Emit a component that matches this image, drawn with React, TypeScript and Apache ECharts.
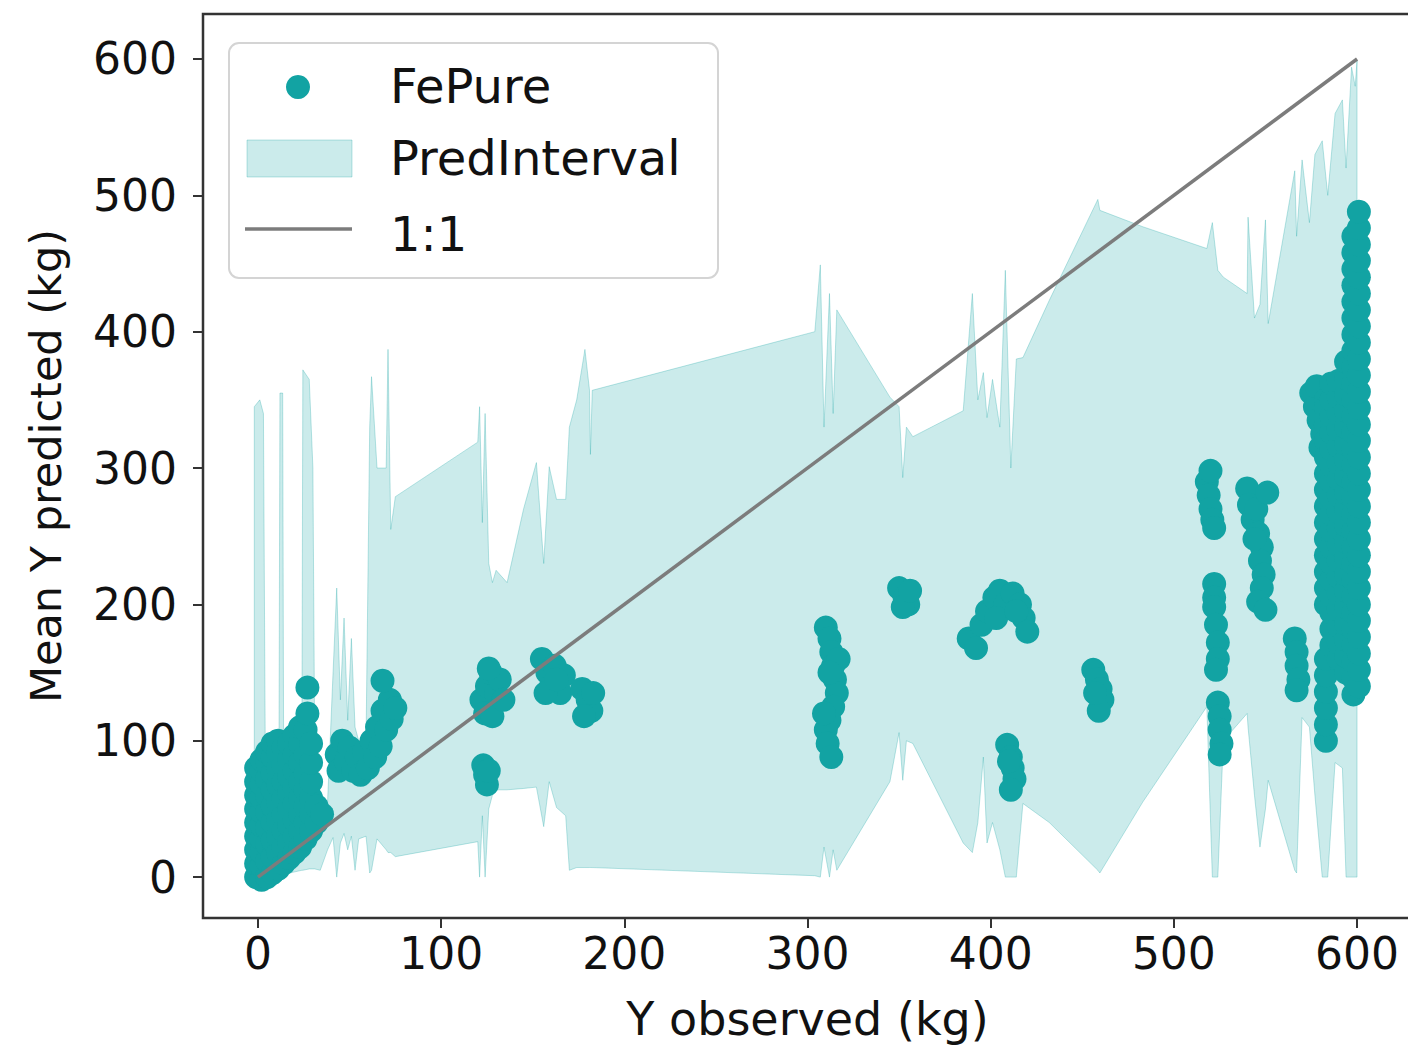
import React, { useEffect, useRef } from "react";
import * as echarts from "echarts";

// ---------- axis ticks ----------
const xTicks = [0, 100, 200, 300, 400, 500, 600];
const yTicks = [0, 100, 200, 300, 400, 500, 600];

// ---------- prediction interval (sorted by observed Y) ----------
const intervalX = [
  -2, 1, 3, 4, 8, 11.5, 12, 13.5, 14, 24, 24.5, 28, 30, 31, 34, 38, 41, 43, 45, 47,
  49, 51, 53, 55, 59, 61, 62, 65, 70, 71, 72.5, 75, 120, 121, 122.5, 124, 126, 128,
  130, 136, 145, 152, 156, 159, 163, 168, 170, 174, 178.5, 181, 181.5, 182.5, 304,
  307, 309, 312, 314, 316, 345, 350, 352, 354, 357.5, 385, 390, 393, 396, 398, 401,
  405, 408, 411, 414, 417.6, 432, 458.5, 459.6, 483, 518, 521, 524, 527, 540, 540.5,
  544, 547, 550, 551.5, 566, 567, 570, 574, 577, 581, 584, 588, 592, 594, 597, 599, 600,
];
const intervalLower = [
  -2, 0, 0, 0, 0, 1, 1, 2, 2, 5, 5, 6, 6, 6, 5, 20, 29, 0, 25, 32,
  20, 30, 5, 28, 30, 3, 5, 28, 20, 18, 18, 15, 26, 0, 45, 0, 50, 60,
  64, 64, 65, 66, 37, 70, 51, 45, 5, 7, 7, 7, 7, 7, 1,
  0, 22, 0, 20, 5, 70, 106, 71, 100, 98, 25, 18, 40, 88, 25, 40,
  20, 0, 0, 0, 54, 40, 5, 3, 55, 125, 0, 0, 100, 120, 110,
  60, 22, 50, 71, 5, 3, 117, 110, 60, 0, 0, 84, 80, 0, 0, 0, 0,
];
const intervalUpper = [
  345, 350, 340, 90, 95, 100, 355, 355, 100, 105, 372, 365, 300, 90, 60, 55, 150, 212, 130, 190,
  115, 175, 110, 100, 100, 330, 367, 300, 300, 387, 255, 279, 319, 345, 260, 340, 230, 216,
  225, 216, 270, 304, 230, 301, 277, 277, 330, 350, 387, 357, 310, 357, 400,
  449, 330, 428, 340, 416, 352, 345, 293, 330, 323, 342, 428, 350, 370, 337, 365,
  330, 445, 300, 380, 381, 423, 497, 489, 477, 461, 480, 445, 440, 428, 484,
  410, 420, 482, 406, 518, 470, 526, 480, 530, 540, 500, 560, 570, 520, 594, 580, 599,
];

// ---------- FePure points [Y observed, mean Y predicted] ----------
const fePure: number[][] = [
  // dense cluster near zero
  [-1, 0], [-1, 10], [-1, 20], [-1, 30], [-1, 40], [-1, 50], [-1, 60], [-1, 70], [-1, 80],
  [2, -2], [2, 8], [2, 18], [2, 28], [2, 38], [2, 48], [2, 58], [2, 68], [2, 78], [2, 86],
  [5, 0], [5, 12], [5, 24], [5, 36], [5, 48], [5, 60], [5, 72], [5, 84], [5, 92],
  [8, 3], [8, 15], [8, 27], [8, 40], [8, 52], [8, 64], [8, 76], [8, 88], [8, 98],
  [11, 6], [11, 18], [11, 30], [11, 42], [11, 55], [11, 68], [11, 80], [11, 92], [11, 100],
  [14, 10], [14, 22], [14, 34], [14, 46], [14, 58], [14, 70], [14, 82], [14, 95],
  [17, 14], [17, 26], [17, 38], [17, 50], [17, 62], [17, 74], [17, 86], [17, 98],
  [20, 18], [20, 30], [20, 42], [20, 54], [20, 66], [20, 78], [20, 90], [20, 104],
  [23, 22], [23, 34], [23, 46], [23, 58], [23, 70], [23, 84], [23, 98], [23, 110],
  [26, 28], [26, 40], [26, 52], [26, 64], [26, 76], [26, 90], [26, 108], [27, 120], [27, 139],
  [29, 34], [29, 46], [29, 58], [29, 70], [29, 84], [29, 98],
  [32, 40], [32, 52], [35, 46],
  // 40-75
  [43, 90], [44, 78], [46, 100], [48, 85], [50, 95], [52, 78], [54, 88], [56, 75], [58, 92],
  [60, 80], [62, 100], [64, 88], [65, 110], [67, 96], [68, 122], [70, 108], [72, 130],
  [73, 116], [68, 144], [75, 124],
  // ~125
  [122, 130], [125, 140], [127, 150], [124, 120], [130, 135], [132, 145], [128, 118],
  [134, 130], [126, 153], [123, 82], [124, 75], [125, 68], [126, 78],
  // ~160
  [155, 160], [158, 150], [160, 140], [162, 155], [165, 135], [167, 148], [157, 135], [163, 145],
  // ~180
  [177, 138], [180, 130], [182, 122], [178, 118], [183, 135],
  // ~312
  [310, 183], [312, 175], [313, 165], [314, 155], [315, 145], [316, 135], [314, 125],
  [312, 115], [310, 108], [311, 98], [313, 88], [309, 120], [317, 160], [312, 150],
  // ~353
  [350, 212], [353, 205], [355, 200], [352, 198], [356, 210],
  // ~400
  [388, 175], [392, 168], [395, 185], [398, 195], [402, 205], [405, 210], [408, 200],
  [403, 190], [412, 208], [416, 200], [418, 190], [420, 180], [414, 195],
  [409, 97], [411, 88], [412, 80], [413, 72], [411, 64], [410, 85],
  // ~458
  [456, 152], [458, 145], [460, 138], [461, 130], [459, 122], [457, 135],
  // ~520
  [518, 290], [519, 280], [520, 270], [521, 262], [522, 256], [520, 298],
  [522, 215], [522, 205], [522, 198], [523, 185], [524, 172], [524, 160], [523, 152],
  [524, 128], [525, 118], [525, 108], [526, 98], [525, 90],
  // ~545
  [540, 285], [541, 273], [543, 262], [545, 270], [551, 282], [546, 252], [548, 242],
  [547, 232], [549, 222], [548, 212], [546, 202], [550, 196], [544, 248],
  // ~567
  [566, 175], [567, 165], [567, 155], [568, 145], [567, 137],
  // ~578
  [575, 355], [577, 345], [579, 335], [581, 325], [578, 360], [583, 350], [580, 315],
  // dense column near 600
  [583, 100], [583, 112], [583, 124], [583, 136], [583, 148], [583, 160],
  [583, 200], [583, 212], [583, 224], [583, 236], [583, 248], [583, 260], [583, 272],
  [583, 284], [583, 296], [583, 308], [583, 320], [583, 332], [583, 344],
  [586, 170], [586, 182], [586, 194], [586, 206], [586, 218], [586, 230], [586, 242],
  [586, 254], [586, 266], [586, 278], [586, 290], [586, 302], [586, 314], [586, 326],
  [586, 338], [586, 350], [586, 362],
  [590, 160], [590, 172], [590, 184], [590, 196], [590, 208], [590, 220], [590, 232],
  [590, 244], [590, 256], [590, 268], [590, 280], [590, 292], [590, 304], [590, 316],
  [590, 328], [590, 340], [590, 352], [590, 364],
  [594, 150], [594, 162], [594, 174], [594, 186], [594, 198], [594, 210], [594, 222],
  [594, 234], [594, 246], [594, 258], [594, 270], [594, 282], [594, 294], [594, 306],
  [594, 318], [594, 330], [594, 342], [594, 354], [594, 366], [594, 378],
  [598, 134], [598, 146], [598, 158], [598, 170], [598, 182], [598, 194], [598, 206],
  [598, 218], [598, 230], [598, 242], [598, 254], [598, 266], [598, 278], [598, 290],
  [598, 302], [598, 314], [598, 326], [598, 338], [598, 350], [598, 362], [598, 374],
  [598, 386], [598, 398], [598, 410], [598, 422], [598, 434], [598, 446], [598, 458],
  [598, 470],
  [601, 140], [601, 152], [601, 164], [601, 176], [601, 188], [601, 200], [601, 212],
  [601, 224], [601, 236], [601, 248], [601, 260], [601, 272], [601, 284], [601, 296],
  [601, 308], [601, 320], [601, 332], [601, 344], [601, 356], [601, 368], [601, 380],
  [601, 392], [601, 404], [601, 416], [601, 428], [601, 440], [601, 452], [601, 464],
  [601, 476], [601, 488],
];

// ---------- 1:1 reference line ----------
const oneToOne = [[0, 0], [600, 600]];

const TEAL = "#12a3a3";
const FILL = "rgba(18,163,163,0.22)";
const EDGE = "rgba(18,163,163,0.28)";
const GREY = "#7c7c7c";
const FONT = "DejaVu Sans";
const TXT = "#111111";

export default function App() {
  const ref = useRef<HTMLDivElement>(null);

  useEffect(() => {
    document.body.style.margin = "0";
    document.body.style.overflow = "hidden";
    const chart = echarts.init(ref.current as HTMLDivElement, null, { renderer: "svg" });
    const bandData = intervalX.map((x, i) => [x, intervalLower[i], intervalUpper[i]]);

    chart.setOption({
      animation: false,
      grid: {
        left: 203,
        top: 14,
        width: 1209,
        height: 904,
        show: true,
        borderColor: "#333333",
        borderWidth: 2.5,
        backgroundColor: "transparent",
      },
      xAxis: {
        type: "value",
        min: -30,
        max: 630,
        splitLine: { show: false },
        axisLine: { show: false, onZero: false },
        axisTick: {
          show: true,
          inside: false,
          length: 10,
          customValues: xTicks,
          lineStyle: { color: "#333333", width: 2 },
        },
        axisLabel: {
          customValues: xTicks,
          fontSize: 44,
          fontFamily: FONT,
          color: TXT,
          margin: 13,
        },
        name: "Y observed (kg)",
        nameLocation: "middle",
        nameGap: 78,
        nameTextStyle: { fontSize: 46, fontFamily: FONT, color: TXT },
      },
      yAxis: {
        type: "value",
        min: -30,
        max: 633,
        splitLine: { show: false },
        axisLine: { show: false, onZero: false },
        axisTick: {
          show: true,
          inside: false,
          length: 10,
          customValues: yTicks,
          lineStyle: { color: "#333333", width: 2 },
        },
        axisLabel: {
          customValues: yTicks,
          fontSize: 44,
          fontFamily: FONT,
          color: TXT,
          margin: 26,
        },
        name: "Mean Y predicted (kg)",
        nameLocation: "middle",
        nameGap: 136,
        nameTextStyle: { fontSize: 43, fontFamily: FONT, color: TXT },
      },
      series: [
        {
          type: "custom",
          name: "PredInterval",
          data: bandData,
          encode: { x: 0, y: [1, 2] },
          clip: true,
          z: 1,
          renderItem: (params: any, api: any) => {
            if (params.dataIndex !== 0) return null;
            const top = intervalX.map((x, i) => api.coord([x, intervalUpper[i]]));
            const bottom = intervalX
              .map((x, i) => api.coord([x, intervalLower[i]]))
              .reverse();
            return {
              type: "polygon",
              shape: { points: top.concat(bottom) },
              style: { fill: FILL, stroke: EDGE, lineWidth: 1 },
            };
          },
        },
        {
          type: "scatter",
          name: "FePure",
          data: fePure,
          symbol: "circle",
          symbolSize: 24,
          itemStyle: { color: TEAL, opacity: 1 },
          z: 3,
        },
        {
          type: "line",
          name: "1:1",
          data: oneToOne,
          symbol: "none",
          lineStyle: { color: GREY, width: 3.5 },
          z: 4,
        },
      ],
      graphic: [
        {
          type: "rect",
          z: 100,
          shape: { x: 229, y: 43, width: 489, height: 235, r: 10 },
          style: { fill: "rgba(255,255,255,0.8)", stroke: "#d4d4d4", lineWidth: 2 },
        },
        {
          type: "circle",
          z: 101,
          shape: { cx: 298, cy: 87, r: 12 },
          style: { fill: TEAL },
        },
        {
          type: "rect",
          z: 101,
          shape: { x: 247, y: 140, width: 105, height: 37 },
          style: { fill: FILL, stroke: EDGE, lineWidth: 1 },
        },
        {
          type: "line",
          z: 101,
          shape: { x1: 245, y1: 229, x2: 352, y2: 229 },
          style: { stroke: GREY, lineWidth: 3.5 },
        },
        {
          type: "text",
          z: 101,
          x: 390,
          y: 86,
          style: { text: "FePure", fontSize: 48, fontFamily: FONT, fill: TXT, verticalAlign: "middle" },
        },
        {
          type: "text",
          z: 101,
          x: 390,
          y: 158,
          style: { text: "PredInterval", fontSize: 48, fontFamily: FONT, fill: TXT, verticalAlign: "middle" },
        },
        {
          type: "text",
          z: 101,
          x: 390,
          y: 234,
          style: { text: "1:1", fontSize: 48, fontFamily: FONT, fill: TXT, verticalAlign: "middle" },
        },
      ],
    });

    return () => chart.dispose();
  }, []);

  return <div ref={ref} style={{ width: 1420, height: 1050 }} />;
}
